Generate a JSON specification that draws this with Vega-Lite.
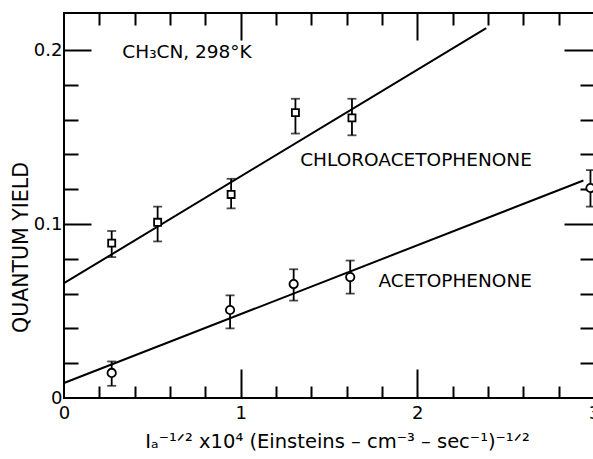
{
  "$schema": "https://vega.github.io/schema/vega-lite/v6.json",
  "width": 530,
  "height": 385,
  "autosize": "none",
  "padding": {"left": 64, "top": 13, "right": 0, "bottom": 61},
  "background": "white",
  "config": {
    "view": {"stroke": "black", "strokeWidth": 2},
    "font": "DejaVu Sans",
    "axis": {
      "domain": false,
      "grid": false,
      "tickColor": "black",
      "tickWidth": 2,
      "labelColor": "black",
      "titleColor": "black",
      "labelFont": "DejaVu Sans",
      "titleFont": "DejaVu Sans",
      "labelFontSize": 18,
      "titleFontSize": 19,
      "titleFontWeight": "normal"
    }
  },
  "resolve": {"axis": {"x": "independent", "y": "independent"}},
  "datasets": {
    "fit": [
      {"series": "chloro", "x": 0, "y": 0.066},
      {"series": "chloro", "x": 2.39, "y": 0.2126},
      {"series": "aceto", "x": 0, "y": 0.0086},
      {"series": "aceto", "x": 2.94, "y": 0.125}
    ],
    "obs": [
      {"series": "chloro", "x": 0.27, "y": 0.089, "lo": 0.081, "hi": 0.096},
      {"series": "chloro", "x": 0.53, "y": 0.101, "lo": 0.090, "hi": 0.110},
      {"series": "chloro", "x": 0.946, "y": 0.117, "lo": 0.109, "hi": 0.126},
      {"series": "chloro", "x": 1.31, "y": 0.164, "lo": 0.152, "hi": 0.172},
      {"series": "chloro", "x": 1.63, "y": 0.161, "lo": 0.151, "hi": 0.172},
      {"series": "aceto", "x": 0.27, "y": 0.0144, "lo": 0.007, "hi": 0.021},
      {"series": "aceto", "x": 0.94, "y": 0.0506, "lo": 0.040, "hi": 0.059},
      {"series": "aceto", "x": 1.30, "y": 0.0655, "lo": 0.056, "hi": 0.074},
      {"series": "aceto", "x": 1.62, "y": 0.0695, "lo": 0.060, "hi": 0.079},
      {"series": "aceto", "x": 2.98, "y": 0.1207, "lo": 0.110, "hi": 0.131}
    ],
    "notes": [
      {"key": "cond", "x": 0.33, "y": 0.199, "text": "CH₃CN, 298°K"},
      {"key": "chloro", "x": 1.337, "y": 0.1368, "text": "CHLOROACETOPHENONE"},
      {"key": "aceto", "x": 1.78, "y": 0.0672, "text": "ACETOPHENONE"}
    ]
  },
  "layer": [
    {
      "data": {"name": "fit"},
      "transform": [{"filter": "datum.series === 'chloro'"}],
      "mark": {"type": "line", "color": "black", "strokeWidth": 2},
      "encoding": {
        "x": {"field": "x", "type": "quantitative", "scale": {"domain": [0, 3], "nice": false, "zero": false},
          "axis": {"orient": "bottom", "values": [0, 1, 2, 3], "ticks": false, "labelPadding": 6, "labelFlush": false, "format": "d",
            "title": "Iₐ⁻¹ᐟ² x10⁴ (Einsteins – cm⁻³ – sec⁻¹)⁻¹ᐟ²", "titlePadding": 10, "titleX": 273, "titleAnchor": "middle", "titleFontSize": 19.5}},
        "y": {"field": "y", "type": "quantitative", "scale": {"domain": [0, 0.2213], "nice": false, "zero": false},
          "axis": {"orient": "left", "values": [0, 0.1, 0.2], "ticks": false, "labelPadding": 2, "format": ".1f",
            "labelExpr": "datum.value == 0 ? '0' : datum.label",
            "title": "QUANTUM YIELD", "titleX": -33, "titleY": 234, "titleAnchor": "middle", "titleFontSize": 20.5}}
      }
    },
    {
      "data": {"name": "fit"},
      "transform": [{"filter": "datum.series === 'aceto'"}],
      "mark": {"type": "line", "color": "black", "strokeWidth": 2},
      "encoding": {
        "x": {"field": "x", "type": "quantitative", "scale": {"domain": [0, 3], "nice": false, "zero": false},
          "axis": {"orient": "bottom", "values": [0.2, 0.4, 0.6, 0.8, 1.2, 1.4, 1.6, 1.8, 2.2, 2.4, 2.6, 2.8], "labels": false, "tickSize": -12, "title": null}},
        "y": {"field": "y", "type": "quantitative", "scale": {"domain": [0, 0.2213], "nice": false, "zero": false},
          "axis": {"orient": "left", "values": [0.02, 0.04, 0.06, 0.08, 0.12, 0.14, 0.16, 0.18], "labels": false, "tickSize": -14, "title": null}}
      }
    },
    {
      "data": {"name": "obs"},
      "mark": {"type": "errorbar", "ticks": true, "size": 9, "thickness": 1.8, "color": "black"},
      "encoding": {
        "x": {"field": "x", "type": "quantitative", "scale": {"domain": [0, 3], "nice": false, "zero": false}, "axis": null},
        "y": {"field": "lo", "type": "quantitative", "scale": {"domain": [0, 0.2213], "nice": false, "zero": false}, "axis": null},
        "y2": {"field": "hi"}
      }
    },
    {
      "data": {"name": "obs"},
      "transform": [{"filter": "datum.series === 'chloro'"}],
      "mark": {"type": "point", "shape": "square", "filled": false, "fill": "white", "fillOpacity": 1, "stroke": "black", "strokeWidth": 1.8, "size": 50, "opacity": 1},
      "encoding": {
        "x": {"field": "x", "type": "quantitative", "scale": {"domain": [0, 3], "nice": false, "zero": false},
          "axis": {"orient": "top", "values": [0.2, 0.4, 0.6, 0.8, 1.2, 1.4, 1.6, 1.8, 2.2, 2.4, 2.6, 2.8], "labels": false, "tickSize": -12, "title": null}},
        "y": {"field": "y", "type": "quantitative", "scale": {"domain": [0, 0.2213], "nice": false, "zero": false},
          "axis": {"orient": "right", "values": [0.02, 0.04, 0.06, 0.08, 0.12, 0.14, 0.16, 0.18], "labels": false, "tickSize": -14, "title": null}}
      }
    },
    {
      "data": {"name": "obs"},
      "transform": [{"filter": "datum.series === 'aceto'"}],
      "mark": {"type": "point", "shape": "circle", "filled": false, "fill": "white", "fillOpacity": 1, "stroke": "black", "strokeWidth": 1.8, "size": 70, "opacity": 1},
      "encoding": {
        "x": {"field": "x", "type": "quantitative", "scale": {"domain": [0, 3], "nice": false, "zero": false},
          "axis": {"orient": "top", "values": [1, 2], "labels": false, "tickSize": -27, "title": null}},
        "y": {"field": "y", "type": "quantitative", "scale": {"domain": [0, 0.2213], "nice": false, "zero": false},
          "axis": {"orient": "right", "values": [0.1, 0.2], "labels": false, "tickSize": -30, "title": null}}
      }
    },
    {
      "data": {"name": "notes"},
      "transform": [{"filter": "datum.key === 'chloro'"}],
      "mark": {"type": "text", "align": "left", "baseline": "middle", "fontSize": 18.5, "font": "DejaVu Sans", "color": "black"},
      "encoding": {
        "x": {"field": "x", "type": "quantitative", "scale": {"domain": [0, 3], "nice": false, "zero": false},
          "axis": {"orient": "bottom", "values": [1, 2], "labels": false, "tickSize": -29, "title": null}},
        "y": {"field": "y", "type": "quantitative", "scale": {"domain": [0, 0.2213], "nice": false, "zero": false},
          "axis": {"orient": "left", "values": [0.1, 0.2], "labels": false, "tickSize": -27, "title": null}},
        "text": {"field": "text"}
      }
    },
    {
      "data": {"name": "notes"},
      "transform": [{"filter": "datum.key !== 'chloro'"}],
      "mark": {"type": "text", "align": "left", "baseline": "middle", "fontSize": 18.5, "font": "DejaVu Sans", "color": "black"},
      "encoding": {
        "x": {"field": "x", "type": "quantitative", "scale": {"domain": [0, 3], "nice": false, "zero": false}, "axis": null},
        "y": {"field": "y", "type": "quantitative", "scale": {"domain": [0, 0.2213], "nice": false, "zero": false}, "axis": null},
        "text": {"field": "text"}
      }
    }
  ]
}
